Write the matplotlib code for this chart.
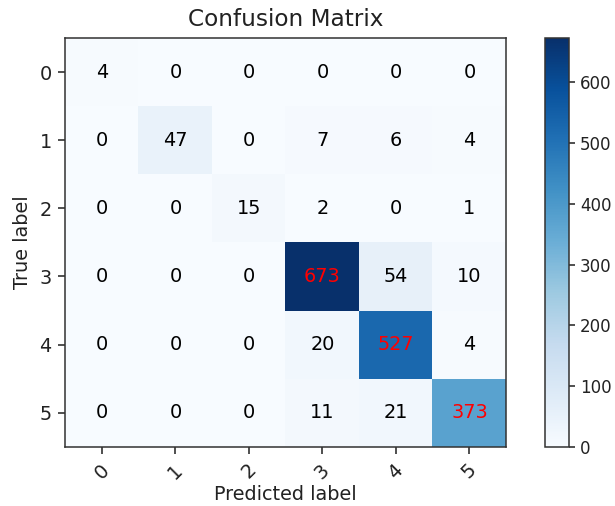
import matplotlib
matplotlib.use("Agg")
import matplotlib.pyplot as plt
import numpy as np

classes = ["0", "1", "2", "3", "4", "5"]
cm = np.array([
    [4, 0, 0, 0, 0, 0],
    [0, 47, 0, 7, 6, 4],
    [0, 0, 15, 2, 0, 1],
    [0, 0, 0, 673, 54, 10],
    [0, 0, 0, 20, 527, 4],
    [0, 0, 0, 11, 21, 373],
])
cbar_ticks = [0, 100, 200, 300, 400, 500, 600]

plt.rcParams["text.color"] = "#222222"
plt.rcParams["axes.labelcolor"] = "#222222"
plt.rcParams["xtick.color"] = "#222222"
plt.rcParams["ytick.color"] = "#222222"
plt.rcParams["axes.edgecolor"] = "#333333"

DPI = 139
fig = plt.figure(figsize=(615 / DPI, 506 / DPI), dpi=DPI)
ax = fig.add_axes([0.106, 0.117, 0.717, 0.808])
cax = fig.add_axes([0.886, 0.117, 0.040, 0.808])

im = ax.imshow(cm, interpolation="nearest", cmap=plt.cm.Blues, aspect="auto")
ax.set_title("Confusion Matrix")
cb = fig.colorbar(im, cax=cax, ticks=cbar_ticks)
cb.outline.set_edgecolor("#333333")
cb.ax.tick_params(labelsize=8.6, length=3, pad=2.5)

ticks = np.arange(len(classes))
ax.set_xticks(ticks)
ax.set_xticklabels(classes, rotation=45)
ax.set_yticks(ticks)
ax.set_yticklabels(classes)

# values above half of max get red text
thresh = cm.max() / 2.0
for i in range(cm.shape[0]):
    for j in range(cm.shape[1]):
        ax.text(j, i, format(cm[i, j], "d"),
                ha="center", va="center",
                color="red" if cm[i, j] > thresh else "black")

ax.set_ylabel("True label")
ax.set_xlabel("Predicted label", labelpad=1.5)

fig.savefig("out.png", dpi=DPI)
